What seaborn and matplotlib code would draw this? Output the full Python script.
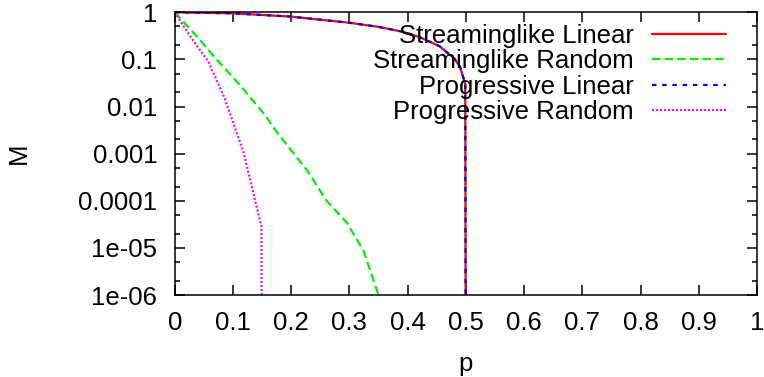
import pandas as pd
import matplotlib
matplotlib.use('Agg')
import matplotlib.pyplot as plt
import seaborn as sns
from matplotlib.ticker import FixedLocator, NullFormatter

# values (M on a log axis, 1e-9 stands for "dropped to zero")
p_lin = [0.0, 0.1, 0.2, 0.3, 0.35, 0.39, 0.42, 0.455, 0.48, 0.49, 0.499, 0.5]
m_lin = [1.0, 0.95, 0.81, 0.60, 0.49, 0.39, 0.30, 0.19, 0.105, 0.07, 0.03, 1e-9]

p_srand = [0.0, 0.041, 0.069, 0.115, 0.155, 0.169, 0.186, 0.227, 0.261, 0.295, 0.324, 0.35]
m_srand = [1.0, 0.28, 0.11, 0.026, 6.6e-3, 3.7e-3, 1.95e-3, 4.5e-4, 1.0e-4, 3.5e-5, 8.9e-6, 1.0e-6]

p_prand = [0.0, 0.029, 0.058, 0.086, 0.106, 0.118, 0.149, 0.15]
m_prand = [1.0, 0.28, 0.089, 0.0148, 2.9e-3, 1.1e-3, 2.8e-5, 1e-9]

series_names = ['Streaminglike Linear', 'Streaminglike Random',
                'Progressive Linear', 'Progressive Random']
series_p = [p_lin, p_srand, p_lin, p_prand]
series_m = [m_lin, m_srand, m_lin, m_prand]
colors = ['#ff0000', '#00ee00', '#0000ff', '#ff00ff']
styles = ['-', (0, (3.8, 1.9)), (0, (2.0, 2.6)), (0, (0.9, 0.9))]

ytick_vals = [1, 0.1, 0.01, 0.001, 0.0001, 1e-05, 1e-06]
ytick_labels = ['1', '0.1', '0.01', '0.001', '0.0001', '1e-05', '1e-06']
xtick_vals = [0, 0.1, 0.2, 0.3, 0.4, 0.5, 0.6, 0.7, 0.8, 0.9, 1]
xtick_labels = ['0', '0.1', '0.2', '0.3', '0.4', '0.5', '0.6', '0.7', '0.8', '0.9', '1']

FS = 18.5

sns.set_style('ticks')
plt.rcParams['font.family'] = ['Liberation Sans', 'DejaVu Sans']
plt.rcParams['text.color'] = 'black'
plt.rcParams['axes.labelcolor'] = 'black'

fig = plt.figure(figsize=(7.64, 3.77), dpi=100)
ax = fig.add_axes([0.2287, 0.2175, 0.7621, 0.7499])

for name, px, mx, c, ls in zip(series_names, series_p, series_m, colors, styles):
    df = pd.DataFrame({'p': px, 'M': mx})
    sns.lineplot(data=df, x='p', y='M', ax=ax, color=c, linestyle=ls,
                 linewidth=1.6, label=name, estimator=None, sort=False)

ax.set_yscale('log')
ax.set_xlim(0, 1)
ax.set_ylim(1e-6, 1)

ax.xaxis.set_major_locator(FixedLocator(xtick_vals))
ax.set_xticklabels(xtick_labels)
ax.yaxis.set_major_locator(FixedLocator(ytick_vals))
ax.set_yticklabels(ytick_labels)
minor = [m * 10.0 ** e for e in range(-6, 0) for m in (2, 5)]
ax.yaxis.set_minor_locator(FixedLocator(minor))
ax.yaxis.set_minor_formatter(NullFormatter())
ax.xaxis.set_minor_locator(FixedLocator([]))

ax.tick_params(which='both', direction='in', top=True, right=True,
               labelsize=FS, colors='black', width=1.1)
ax.tick_params(axis='x', pad=11.5)
ax.tick_params(axis='y', pad=12.5)
ax.tick_params(which='major', length=7)
ax.tick_params(which='minor', length=3.5)
for s in ax.spines.values():
    s.set_linewidth(1.1)
    s.set_color('black')

ax.set_xlabel('p', fontsize=FS, labelpad=12)
ax.set_ylabel('M', fontsize=FS, va='center')
ax.yaxis.set_label_coords(-0.268, 0.5)

h, l = ax.get_legend_handles_labels()
ax.legend(h, l, loc='upper right', bbox_to_anchor=(0.947, 0.96),
          frameon=False, markerfirst=False, fontsize=FS, handlelength=2.9,
          handletextpad=0.7, labelspacing=0.06, borderpad=0, borderaxespad=0)

fig.savefig('out.png', dpi=100)
